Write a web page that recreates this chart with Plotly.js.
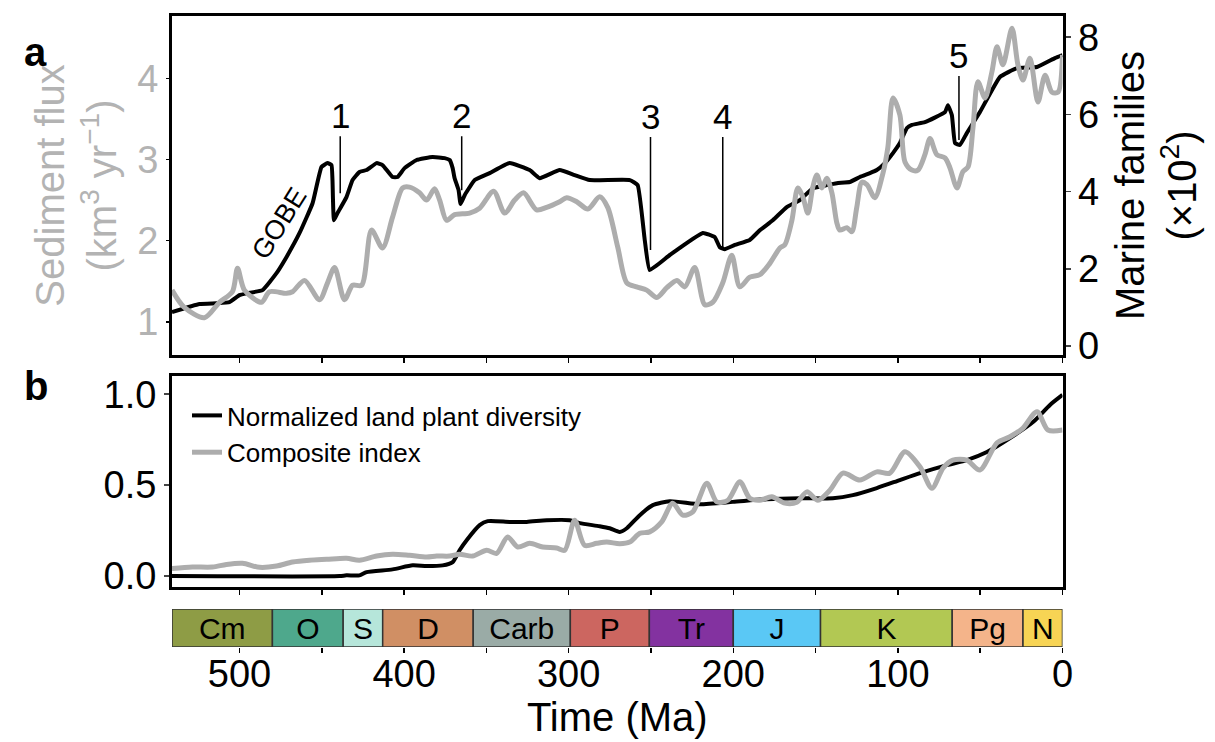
<!DOCTYPE html>
<html>
<head>
<meta charset="utf-8">
<script src="https://cdn.plot.ly/plotly-3.0.1.min.js"></script>
<style>html,body{margin:0;padding:0;background:#fff;}#chart{width:1215px;height:742px;}</style>
</head>
<body>
<div id="chart"></div>
<script>
// ---------- Panel a: marine families (×10^2), right axis ----------
const marineAge = [541,524.3,514,506.1,500,495.1,486,477.5,471.4,463.5,455.6,450.2,446.5,444.1,443.5,442.6,440.4,435,431.3,427.1,422.8,416.7,413.1,407,404,399.7,392.4,382.7,375.4,372.3,370.5,369.3,366.9,365.7,363.2,357.1,348,335.9,323.7,317.6,305.5,296.4,287.2,262.9,258.1,253.8,250.8,238.6,218.5,211.2,208.2,205.2,199.1,190,183.9,176,167.5,159.6,151.7,143.2,137.1,129.2,123.1,117,112.8,107.9,103,98.8,94.5,91.5,83.6,71.4,69.6,67.2,65.3,62.3,58.1,50.2,38,27.7,15.5,4.6,0];
const marineFam = [0.88,1.09,1.11,1.14,1.32,1.37,1.45,1.89,2.31,2.93,3.70,4.64,4.74,4.69,4.30,3.26,3.45,3.86,4.30,4.51,4.56,4.74,4.69,4.38,4.38,4.61,4.82,4.90,4.87,4.82,4.61,4.35,4.04,3.68,3.91,4.30,4.48,4.74,4.56,4.35,4.56,4.43,4.30,4.30,4.17,2.75,1.97,2.36,2.93,2.82,2.56,2.51,2.62,2.75,3.00,3.26,3.60,3.78,4.09,4.17,4.22,4.25,4.38,4.48,4.56,4.74,5.00,5.26,5.65,5.73,5.80,6.06,6.24,5.98,5.26,5.21,5.52,6.06,6.97,7.20,7.23,7.46,7.54];

// ---------- Panel a: sediment flux (km3/yr), left axis ----------
const fluxAge = [541,533.7,521.3,512.2,504.3,501.2,497,486.6,481.8,471.4,467.8,460.5,451.4,446.5,442.2,436.2,431.3,425.8,419.8,413.1,407,400.9,396.7,390.6,386.3,381.5,378.4,374.2,369.3,360.2,354.1,345.6,338.9,332.8,327.4,319.5,313.4,305.5,301.2,295.1,288.4,281.2,276.3,270.2,264.7,258.7,252.6,246.5,240.4,234.3,229.5,223.4,217.3,212.5,206.4,200.9,196,190,183.9,177.8,171.7,168.7,164.4,160.8,157.8,154.7,151.7,149.2,146.2,143.2,140.1,137.1,135.3,131,128,125,121.9,118.8,114,109.1,106.1,103,98.8,95.7,91.5,87.8,83.6,80.5,76.3,71.4,68.4,64.1,60.5,57.4,54.4,51.4,47.1,42.9,39.8,36.2,30.7,27.1,24,19.8,14.9,10.6,6.4,2.7,0];
const fluxVal = [1.39,1.18,1.05,1.24,1.37,1.66,1.39,1.24,1.37,1.35,1.37,1.51,1.27,1.48,1.67,1.27,1.45,1.45,2.13,1.91,2.29,2.65,2.66,2.59,2.50,2.64,2.50,2.25,2.32,2.34,2.40,2.61,2.34,2.50,2.59,2.38,2.41,2.48,2.53,2.48,2.39,2.54,2.41,1.92,1.48,1.43,1.39,1.30,1.42,1.51,1.43,1.67,1.21,1.24,1.48,1.82,1.43,1.55,1.58,1.72,1.91,1.95,2.25,2.65,2.54,2.34,2.66,2.81,2.65,2.77,2.59,2.22,2.13,2.16,2.11,2.41,2.72,2.69,2.53,2.83,3.15,3.76,3.55,2.97,2.87,2.87,3.06,3.26,3.06,3.02,2.90,2.65,2.85,2.91,3.39,3.96,3.76,4.08,4.39,4.17,4.62,4.17,3.98,4.25,3.71,4.04,3.83,3.83,4.29];

// ---------- Panel b: normalized land plant diversity ----------
const plantAge = [541,439.2,435,427.1,422.8,407,394.8,386.3,376.6,370.5,366.3,362,354.1,349.2,335.9,325.5,313.4,299.4,293.3,281.2,275.1,269,264.7,256.8,248.9,238.6,220.4,200.3,179.6,159.6,139.5,127.4,112.8,98.8,86.6,70.2,58.1,45.9,31.9,17.9,7.6,0];
const plantVal = [0,0,0.004,0.004,0.022,0.037,0.059,0.055,0.059,0.077,0.142,0.197,0.280,0.302,0.298,0.298,0.307,0.307,0.291,0.274,0.263,0.243,0.263,0.335,0.390,0.412,0.395,0.408,0.423,0.428,0.428,0.445,0.484,0.528,0.566,0.610,0.638,0.682,0.759,0.847,0.941,0.996];

// ---------- Panel b: composite index ----------
const compAge = [541,528.6,516.4,507.9,498.2,487.8,477.5,467.8,457.4,447.1,435,427.1,416.7,407,396.7,386.3,380.2,372.3,366.3,358.4,349.8,343.8,337.1,331,323.7,315.8,307.3,302.4,296.4,290.3,283,276.9,269,262.9,256.8,250.8,243.5,236.8,230.7,224.6,216.1,210,203.3,196,190,183.9,176.6,168.7,161.4,155.3,148.6,141.3,133.4,123.1,112.8,104.9,95.7,86.6,79.3,72.6,66.6,58.1,50.2,39.8,31.9,24,15.5,8.8,0];
const compVal = [0.042,0.050,0.050,0.064,0.070,0.048,0.055,0.077,0.087,0.092,0.098,0.087,0.110,0.120,0.114,0.105,0.110,0.110,0.120,0.110,0.142,0.125,0.215,0.160,0.180,0.160,0.154,0.142,0.307,0.169,0.180,0.187,0.178,0.187,0.235,0.243,0.298,0.401,0.335,0.353,0.511,0.408,0.417,0.518,0.428,0.417,0.436,0.401,0.406,0.463,0.417,0.472,0.566,0.528,0.573,0.566,0.684,0.601,0.483,0.594,0.638,0.638,0.583,0.732,0.766,0.814,0.904,0.803,0.803];

// ---------- Geologic periods ----------
const periodNames = ['Cm','O','S','D','Carb','P','Tr','J','K','Pg','N'];
const periodStart = [541,480,437,413,358,299,251,200,147,67,24];
const periodEnd   = [480,437,413,358,299,251,200,147,67,24,0];
const periodColors = ['#8e9c45','#4ea88c','#b6e6da','#d08f64','#9aaba6','#cc6660','#8332a0','#5ac8f5','#b2c853','#f4b48a','#f7d454'];

// ---------- Extinction events ----------
const eventLabels = ['1','2','3','4','5'];
const eventAge = [438.8,365,250.3,206.4,62.9];
const eventLineBottom = [3.96,4.04,2.49,2.56,5.34];
const eventLabelY = [5.98,5.98,5.96,5.96,7.54];

// ---------- Axis ticks ----------
const timeTicks = [500,400,300,200,100,0];
const timeTickText = ['500','400','300','200','100','0'];
const timeMinorTicks = [450,350,250,150,50];

const FONT = 'Liberation Sans, Arial, Helvetica, sans-serif';
const GRAY = '#adadad';
const GRAYTXT = '#b3b3b3';
const W = 1215, H = 742;
const xDom = [172/W, 1062.5/W];
const py = (top, bottom) => [(H-bottom)/H, (H-top)/H];

const traces = [
  {x: marineAge, y: marineFam, xaxis:'x', yaxis:'y', mode:'lines', line:{color:'#000', width:4, shape:'spline', smoothing:0.35}, showlegend:false, hoverinfo:'skip'},
  {x: fluxAge, y: fluxVal, xaxis:'x', yaxis:'y2', mode:'lines', line:{color:GRAY, width:5, shape:'spline', smoothing:0.8}, showlegend:false, hoverinfo:'skip'},
  {x: plantAge, y: plantVal, xaxis:'x2', yaxis:'y3', mode:'lines', name:'Normalized land plant diversity', line:{color:'#000', width:4, shape:'spline', smoothing:0.6}, hoverinfo:'skip'},
  {x: compAge, y: compVal, xaxis:'x2', yaxis:'y3', mode:'lines', name:'Composite index', line:{color:GRAY, width:5, shape:'spline', smoothing:0.8}, hoverinfo:'skip'},
  {type:'bar', orientation:'h', xaxis:'x3', yaxis:'y4',
   y: periodNames.map(() => 0), base: periodEnd, x: periodStart.map((s,i) => s - periodEnd[i]),
   width: 1, text: periodNames, textposition:'inside', insidetextanchor:'middle', constraintext:'none', textangle:0,
   textfont:{family:FONT, size:30, color:'#000'},
   marker:{color: periodColors, line:{color:'#333', width:1.5}}, showlegend:false, hoverinfo:'skip'}
];

const commonX = {range:[541,0], autorange:false, ticks:'outside', ticklen:5, tickwidth:1.5, tickcolor:'#000',
  tickmode:'array', tickvals: timeTicks, ticktext: timeTickText,
  minor:{tickmode:'array', tickvals: timeMinorTicks, ticks:'outside', ticklen:5, tickwidth:1.5, tickcolor:'#000', showgrid:false},
  showgrid:false, zeroline:false};

const annotations = eventLabels.map((t,i) => ({
  x: eventAge[i], y: eventLineBottom[i], xref:'x', yref:'y',
  ax: eventAge[i], ay: eventLabelY[i], axref:'x', ayref:'y',
  text: t, showarrow:true, arrowhead:0, arrowwidth:1.5, arrowcolor:'#000',
  font:{family:FONT, size:35, color:'#000'}
}));
annotations.push({x:475.7, y:3.19, xref:'x', yref:'y', text:'GOBE', showarrow:false, textangle:-58,
  font:{family:FONT, size:27, color:'#000'}});
annotations.push({x:22/W, y:(H-28)/H, xref:'paper', yref:'paper', text:'<b>a</b>', showarrow:false,
  font:{family:FONT, size:40, color:'#000'}});
annotations.push({x:22/W, y:(H-386)/H, xref:'paper', yref:'paper', text:'<b>b</b>', showarrow:false,
  font:{family:FONT, size:40, color:'#000'}});

const layout = {
  width: W, height: H,
  margin:{l:0, r:0, t:0, b:0},
  paper_bgcolor:'#fff', plot_bgcolor:'#fff',
  font:{family:FONT, color:'#000'},
  showlegend:true,
  legend:{x:187/W, y:(H-392)/H, xanchor:'left', yanchor:'top', bgcolor:'rgba(0,0,0,0)',
    font:{family:FONT, size:26, color:'#000'}, tracegroupgap:0},
  xaxis: Object.assign({}, commonX, {domain:xDom, anchor:'y', showticklabels:false, showline:true, mirror:true, linewidth:3, linecolor:'#000'}),
  yaxis: {domain: py(16,355), range:[-0.23,8.55], side:'right', anchor:'x', tickvals:[0,2,4,6,8],
    ticks:'outside', ticklen:5, tickwidth:1.5, showline:true, mirror:true, linewidth:3, linecolor:'#000',
    showgrid:false, zeroline:false, tickfont:{family:FONT, size:38, color:'#000'},
    title:{text:'Marine families<br>(×10<sup>2</sup>)', font:{family:FONT, size:40, color:'#000'}, standoff:18}},
  yaxis2: {overlaying:'y', side:'left', anchor:'x', range:[0.59,4.77], tickvals:[1,2,3,4],
    ticks:'outside', ticklen:5, tickwidth:1.5, tickcolor:'#000', showline:false, showgrid:false, zeroline:false,
    tickfont:{family:FONT, size:38, color:GRAYTXT},
    title:{text:'Sediment flux<br>(km<sup>3</sup> yr<sup>−1</sup>)', font:{family:FONT, size:40, color:GRAYTXT}, standoff:8}},
  xaxis2: Object.assign({}, commonX, {domain:xDom, anchor:'y3', matches:'x', showticklabels:false, showline:true, mirror:true, linewidth:3, linecolor:'#000'}),
  yaxis3: {domain: py(376,587), anchor:'x2', range:[-0.06,1.10], tickvals:[0,0.5,1], ticktext:['0.0','0.5','1.0'],
    ticks:'outside', ticklen:5, tickwidth:1.5, ticklabelstandoff:0, showline:true, mirror:true, linewidth:3, linecolor:'#000',
    showgrid:false, zeroline:false, tickfont:{family:FONT, size:38, color:'#000'}},
  xaxis3: Object.assign({}, commonX, {domain:xDom, anchor:'y4', matches:'x', showline:false,
    ticklabelstandoff:-12,
    tickfont:{family:FONT, size:38, color:'#000'},
    title:{text:'Time (Ma)', font:{family:FONT, size:40, color:'#000'}, standoff:0}}),
  yaxis4: {domain: py(609,647), anchor:'x3', range:[-0.5,0.5], visible:false, fixedrange:true},
  bargap:0,
  annotations: annotations
};

Plotly.newPlot('chart', traces, layout, {displayModeBar:false, staticPlot:true});
</script>
</body>
</html>
